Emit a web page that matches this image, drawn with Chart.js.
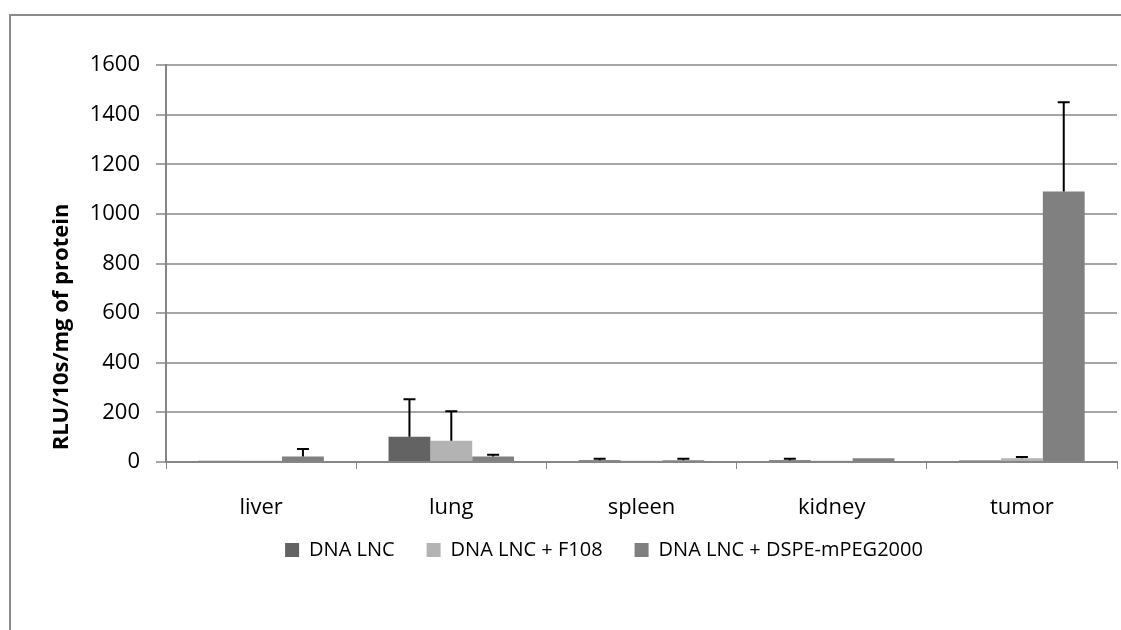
<!DOCTYPE html>
<html><head><meta charset="utf-8">
<script src="https://cdn.jsdelivr.net/npm/chart.js@4.4.1/dist/chart.umd.min.js"></script>
<style>html,body{margin:0;padding:0;background:#fff}#w{width:1121px;height:630px}</style>
</head><body><div id="w"><canvas id="c" width="1121" height="630"></canvas></div>
<script>
const categories = ["liver", "lung", "spleen", "kidney", "tumor"];
const seriesNames = ["DNA LNC", "DNA LNC + F108", "DNA LNC + DSPE-mPEG2000"];
const dnaLnc = [5, 102, 7, 7, 6];
const dnaLncF108 = [5, 86, 5, 5, 15];
const dnaLncDspe = [22, 22, 7, 15, 1090];
const errDnaLnc = [0, 151, 6, 6, 0];
const errDnaLncF108 = [0, 119, 0, 0, 5];
const errDnaLncDspe = [30, 7, 6, 0, 360];
const yTicks = [0, 200, 400, 600, 800, 1000, 1200, 1400, 1600];
const yTitle = "RLU/10s/mg of protein";
const colors = ["#636363", "#b3b3b3", "#808080"];
const FONT = "'Open Sans', sans-serif";

const errorBars = {
  id: 'errorBars',
  afterDatasetsDraw(chart) {
    const ctx = chart.ctx, y = chart.scales.y;
    const errs = [errDnaLnc, errDnaLncF108, errDnaLncDspe];
    chart.data.datasets.forEach((ds, i) => {
      const meta = chart.getDatasetMeta(i);
      meta.data.forEach((bar, j) => {
        const e = errs[i][j];
        if (!e) return;
        const top = y.getPixelForValue(ds.data[j] + e);
        const base = y.getPixelForValue(ds.data[j]);
        ctx.save();
        ctx.strokeStyle = '#000'; ctx.lineWidth = 2;
        ctx.beginPath();
        ctx.moveTo(bar.x, base); ctx.lineTo(bar.x, top);
        ctx.moveTo(bar.x - 6, top); ctx.lineTo(bar.x + 6, top);
        ctx.stroke();
        ctx.restore();
      });
    });
  }
};
const frame = {
  id: 'frame',
  afterLayout(chart) {
    if (chart.legend) { chart.legend.top -= 21; chart.legend.bottom -= 21; }
  },
  beforeDraw(chart) {
    const ctx = chart.ctx;
    ctx.save();
    ctx.fillStyle = '#fff'; ctx.fillRect(0, 0, chart.width, chart.height);
    ctx.strokeStyle = '#8c8c8c'; ctx.lineWidth = 2;
    ctx.strokeRect(10, 15, 1200, 700);
    ctx.restore();
  },
  afterDraw(chart) {
    const ctx = chart.ctx;
    ctx.save();
    ctx.translate(62, 327);
    ctx.rotate(-Math.PI / 2);
    ctx.fillStyle = '#000';
    ctx.font = "bold 22px " + FONT;
    ctx.textAlign = 'center'; ctx.textBaseline = 'middle';
    ctx.fillText(yTitle, 0, 0);
    ctx.restore();
  }
};

new Chart(document.getElementById('c'), {
  type: 'bar',
  data: {
    labels: categories,
    datasets: [
      { label: seriesNames[0], data: dnaLnc, backgroundColor: colors[0] },
      { label: seriesNames[1], data: dnaLncF108, backgroundColor: colors[1] },
      { label: seriesNames[2], data: dnaLncDspe, backgroundColor: colors[2] }
    ]
  },
  options: {
    responsive: false, animation: false,
    layout: { padding: { left: 91, right: 4, top: 65, bottom: 39 } },
    datasets: { bar: { categoryPercentage: 0.66, barPercentage: 1.0 } },
    plugins: {
      legend: {
        position: 'bottom',
        labels: { boxWidth: 14, boxHeight: 14, color: '#000', padding: 32,
          font: { family: FONT, size: 20 } }
      },
      tooltip: { enabled: false }
    },
    scales: {
      x: {
        grid: { drawOnChartArea: false, drawTicks: true, tickLength: 7, color: '#868686', offset: true },
        border: { color: '#868686', width: 2 },
        ticks: { color: '#000', padding: 26, font: { family: FONT, size: 22 } },
        afterFit(s) { s.height = 67; }
      },
      y: {
        min: 0, max: 1600,
        afterBuildTicks(s) { s.ticks = yTicks.map(v => ({ value: v })); },
        grid: { color: '#a6a6a6', lineWidth: 2, tickLength: 10, drawTicks: true },
        border: { color: '#868686', width: 2 },
        ticks: { color: '#000', padding: 16, font: { family: FONT, size: 22 },
          callback: (v) => String(v) },
        afterFit(s) { s.width = 75; }
      }
    }
  },
  plugins: [frame, errorBars]
});
</script></body></html>
